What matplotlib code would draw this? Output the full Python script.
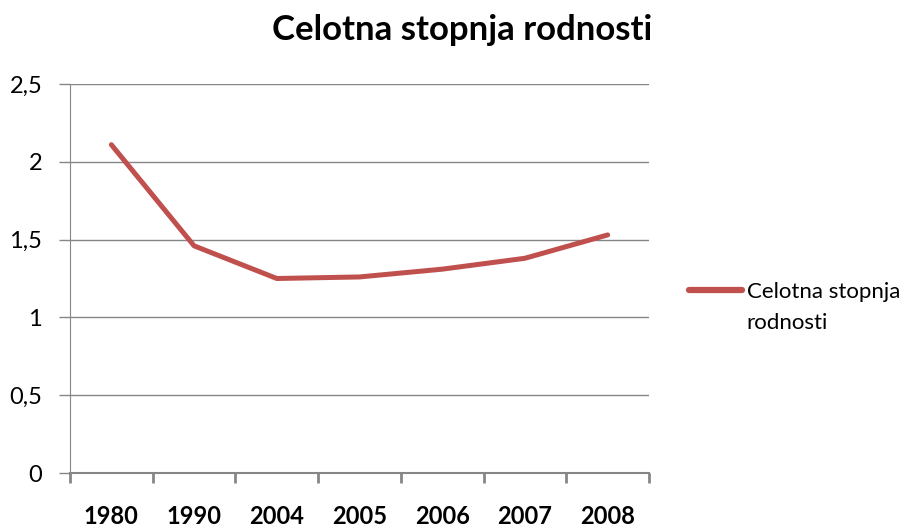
import matplotlib.pyplot as plt
import numpy as np

# Podatki
leta = ['1980', '1990', '2004', '2005', '2006', '2007', '2008']
stopnja = [2.11, 1.46, 1.25, 1.26, 1.31, 1.38, 1.53]
y_ticks = [0, 0.5, 1, 1.5, 2, 2.5]
y_labels = ['0', '0,5', '1', '1,5', '2', '2,5']
naslov = 'Celotna stopnja rodnosti'

plt.rcParams['font.family'] = ['Lato', 'DejaVu Sans']

W, H = 917, 528
fig = plt.figure(figsize=(W / 100, H / 100), dpi=100)
ax = fig.add_axes([70 / W, 1 - 473 / H, (649 - 70) / W, (473 - 84) / H])

x = np.arange(len(leta))
ax.plot(x, stopnja, color='#C0504D', lw=3.6, solid_capstyle='round',
        label='Celotna stopnja', zorder=3)

ax.set_xlim(-0.5, len(leta) - 0.5)
ax.set_ylim(0, 2.5)

ax.set_yticks(y_ticks)
ax.set_yticklabels(y_labels, fontsize=17)
ax.yaxis.grid(True, color='#868686', lw=1)
ax.set_axisbelow(True)

# kljukice med kategorijami, napisi na sredini
ax.set_xticks(np.arange(len(leta) + 1) - 0.5)
ax.set_xticklabels([])
ax.set_xticks(x, minor=True)
ax.set_xticklabels(leta, minor=True, fontsize=17, fontweight='bold')
ax.tick_params(axis='x', which='minor', length=0, pad=23)
ax.tick_params(axis='x', which='major', length=7, width=2, color='#868686', direction='out')
ax.tick_params(axis='y', length=8, width=1, color='#868686', pad=12)

for s in ['top', 'right']:
    ax.spines[s].set_visible(False)
for s in ['left', 'bottom']:
    ax.spines[s].set_color('#868686')
ax.spines['bottom'].set_linewidth(1.5)

fig.text(462 / W, 1 - 40 / H, naslov, fontsize=25, fontweight='bold',
         ha='center', va='baseline')

leg = fig.legend(loc='center left', bbox_to_anchor=(689 / W, 1 - 292 / H),
                 frameon=False, fontsize=16, handlelength=2.4, handletextpad=0.2,
                 borderpad=0, borderaxespad=0)
leg.get_lines()[0].set_linewidth(4.5)

# drugi del legende pod prvo vrstico
fig.canvas.draw()
bb = leg.get_texts()[0].get_window_extent()
fig.text(bb.x0 / W, (bb.y0 - 31) / H, 'rodnosti', fontsize=16, ha='left', va='bottom')

fig.savefig('out.png', dpi=100)
